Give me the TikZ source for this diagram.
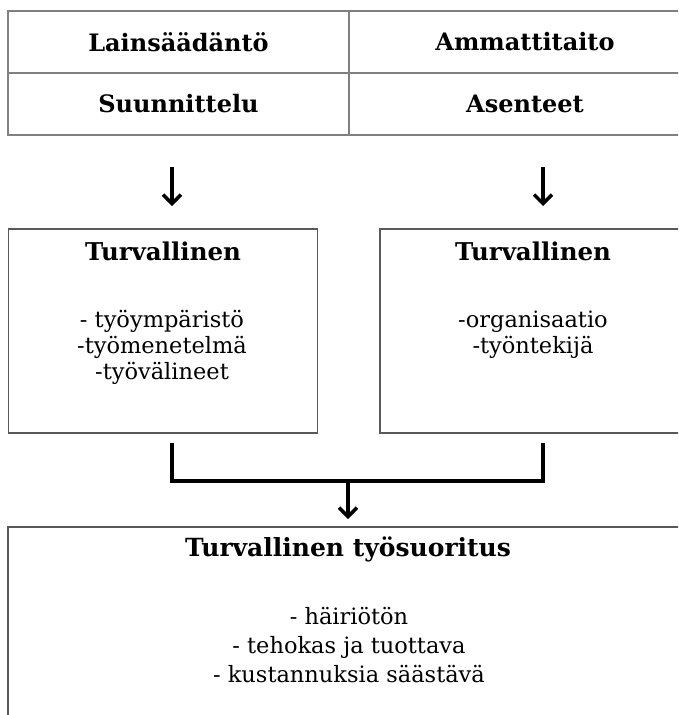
\documentclass[tikz,border=0pt]{standalone}
\usepackage{fontspec}
\setmainfont{DejaVu Serif}
\usetikzlibrary{arrows.meta,positioning}

\tikzset{
    cell/.style={draw=gray, line width=1.6pt, minimum height=62pt, inner sep=0pt, outer sep=0pt,
        font=\fontsize{24}{28}\selectfont\bfseries},
    frame/.style={draw=black!65, line width=1.3pt, inner sep=0pt, outer sep=0pt},
    heading/.style={anchor=base, inner sep=0pt, font=\fontsize{24.5}{28}\selectfont\bfseries},
    items/.style={anchor=base, inner sep=0pt, align=center, font=\fontsize{22.5}{26}\selectfont},
    pointer/.style={line width=3.4pt, -{Straight Barb[length=9pt,width=18pt,line width=3.4pt]}},
    joint/.style={line width=4pt},
}

\begin{document}
\begin{tikzpicture}[x=1pt,y=-1pt]
    \clip (0,0) rectangle (678,715);
    \node [cell, minimum width=341pt] (law) at (178.5,42) {Lainsäädäntö};
    \node [cell, minimum width=352pt, right=0pt of law] (skill) {Ammattitaito};
    \node [cell, minimum width=341pt, below=0pt of law] (plan) {Suunnittelu};
    \node [cell, minimum width=352pt, below=0pt of skill] (attitude) {Asenteet};

    \coordinate (downL) at (172,167);
    \coordinate (tipL) at (172,206);
    \coordinate (downR) at (543,167);
    \coordinate (tipR) at (543,206);
    \draw [pointer] (downL) -- (tipL);
    \draw [pointer] (downR) -- (tipR);

    \node [frame, minimum width=309pt, minimum height=204pt] (safeL) at (163,331) {};
    \node [frame, minimum width=310pt, minimum height=204pt] (safeR) at (535,331) {};
    \node [heading] (titleL) at (163,260) {Turvallinen};
    \node [items] (listL) at (162,379) {- työympäristö\\-työmenetelmä\\-työvälineet};
    \node [heading] (titleR) at (533,260) {Turvallinen};
    \node [items] (listR) at (533,353) {-organisaatio\\-työntekijä};

    \coordinate (joinL) at (172,443);
    \coordinate (joinR) at (543,443);
    \coordinate (joinM) at (348,481);
    \coordinate (tipM) at (348,519);
    \draw [joint] (joinL) |- (joinM) -| (joinR);
    \draw [pointer] (joinM) -- (tipM);

    \node [frame, minimum width=682pt, minimum height=260pt, anchor=north west] (result) at (8,527) {};
    \node [heading, font=\fontsize{25}{28}\selectfont\bfseries] (titleB) at (348,556) {Turvallinen työsuoritus};
    \node [items, font=\fontsize{22.5}{29}\selectfont] (listB) at (349,682)
        {- häiriötön\\- tehokas ja tuottava\\- kustannuksia säästävä};
\end{tikzpicture}
\end{document}
